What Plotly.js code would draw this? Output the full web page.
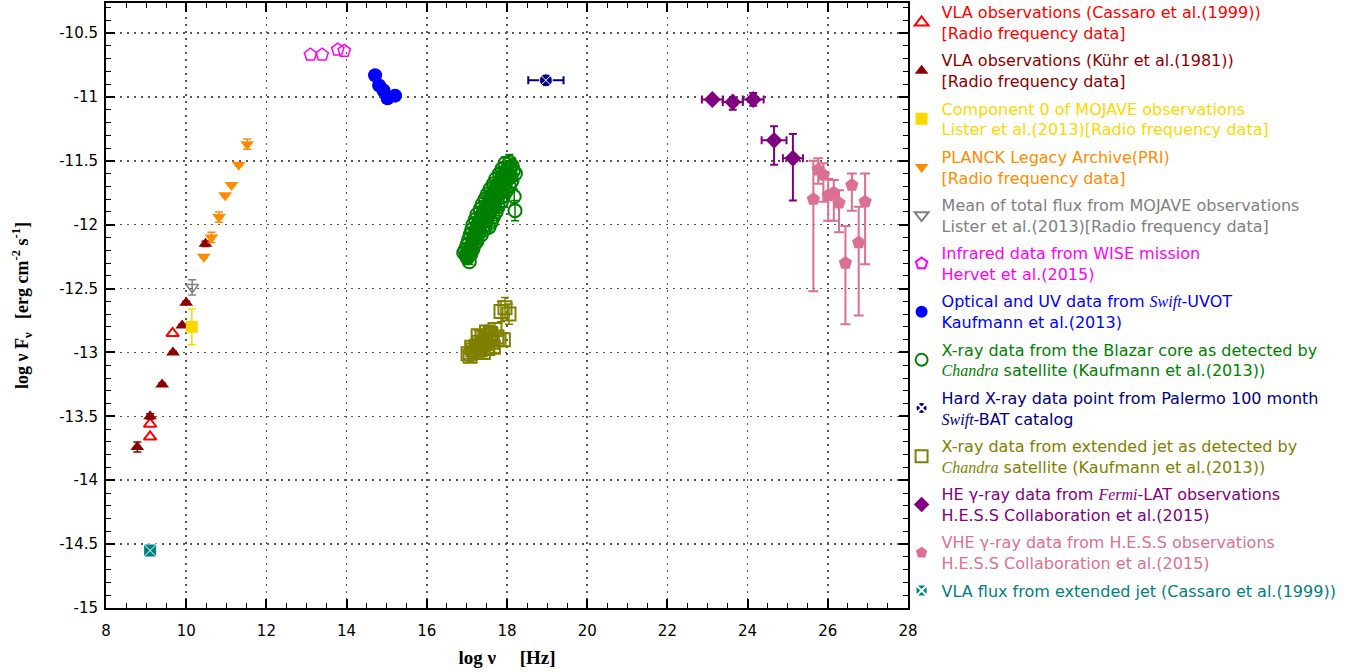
<!DOCTYPE html>
<html><head><meta charset="utf-8">
<script src="https://cdn.plot.ly/plotly-3.0.1.min.js"></script>
<style>html,body{margin:0;padding:0;background:#fff;}#chart{width:1359px;height:672px;}</style>
</head><body><div id="chart"></div>
<script>
// ---- data (log nu [Hz], log nuFnu [erg cm^-2 s^-1]) ----
const vlaCassaroX = [9.10, 9.10, 9.66];
const vlaCassaroY = [-13.56, -13.66, -12.85];

const vlaKuhrX = [8.78, 9.10, 9.40, 9.67, 9.90, 10.00, 10.48];
const vlaKuhrY = [-13.74, -13.50, -13.25, -13.00, -12.79, -12.61, -12.15];
const vlaKuhrErr = [0.04, 0.02, 0.01, 0.01, 0.01, 0.01, 0.02];

const mojaveCompX = [10.14];
const mojaveCompY = [-12.80];
const mojaveCompErr = [0.14];

const planckX = [10.44, 10.63, 10.82, 10.97, 11.13, 11.31, 11.52];
const planckY = [-12.25, -12.10, -11.94, -11.77, -11.69, -11.53, -11.37];
const planckErr = [0.01, 0.04, 0.04, 0.01, 0.01, 0.01, 0.04];

const mojaveMeanX = [10.15];
const mojaveMeanY = [-12.49];
const mojaveMeanErr = [0.06];

const wiseX = [13.10, 13.39, 13.78, 13.94];
const wiseY = [-10.67, -10.67, -10.63, -10.64];

const uvotX = [14.71, 14.81, 14.92, 15.02, 15.21];
const uvotY = [-10.83, -10.91, -10.95, -11.01, -10.99];

const coreX = [17.06, 16.98, 17.10, 16.95, 17.05, 17.15, 17.00, 17.11, 17.20, 17.04, 17.16, 17.25,
  17.08, 17.18, 17.29, 17.36, 17.12, 17.23, 17.32, 17.43, 17.15, 17.26, 17.35, 17.46, 17.55,
  17.21, 17.30, 17.41, 17.50, 17.61, 17.25, 17.36, 17.45, 17.56, 17.66, 17.33, 17.42, 17.53, 17.62, 17.73,
  17.38, 17.49, 17.58, 17.69, 17.78, 17.45, 17.56, 17.65, 17.76, 17.86, 17.51, 17.60, 17.71, 17.80, 17.91,
  17.58, 17.69, 17.78, 17.89, 17.98, 17.66, 17.75, 17.86, 17.95, 18.06, 17.72, 17.83, 17.92, 18.03, 18.12,
  17.81, 17.90, 18.01, 18.10, 17.88, 17.99, 18.08, 18.16, 17.95, 18.06, 18.13,
  18.20, 18.18, 18.21, 16.92, 17.01, 17.68, 17.40, 17.86, 18.00, 17.02, 17.09, 17.19, 17.28];
const coreY = [-12.29, -12.24, -12.23, -12.20, -12.21, -12.19, -12.16, -12.17, -12.15, -12.12, -12.11, -12.13,
  -12.08, -12.09, -12.07, -12.08, -12.04, -12.05, -12.03, -12.04, -12.00, -12.01, -11.99, -12.00, -12.02,
  -11.96, -11.97, -11.95, -11.96, -11.98, -11.92, -11.93, -11.91, -11.92, -11.94, -11.88, -11.89, -11.87, -11.88, -11.90,
  -11.84, -11.85, -11.83, -11.84, -11.86, -11.80, -11.81, -11.79, -11.80, -11.82, -11.76, -11.77, -11.75, -11.76, -11.78,
  -11.72, -11.73, -11.71, -11.72, -11.74, -11.68, -11.69, -11.67, -11.68, -11.70, -11.64, -11.65, -11.63, -11.64, -11.66,
  -11.60, -11.61, -11.59, -11.62, -11.56, -11.57, -11.55, -11.58, -11.52, -11.51, -11.54,
  -11.89, -11.78, -11.60, -12.22, -12.26, -11.86, -11.93, -11.74, -11.61, -12.25, -12.21, -12.12, -12.03];
const coreErr = [0.02, 0.02, 0.02, 0.02, 0.02, 0.02, 0.02, 0.02, 0.02, 0.02, 0.02, 0.02,
  0.02, 0.02, 0.02, 0.02, 0.02, 0.02, 0.02, 0.02, 0.02, 0.02, 0.02, 0.02, 0.03,
  0.02, 0.02, 0.02, 0.03, 0.03, 0.02, 0.02, 0.03, 0.03, 0.03, 0.02, 0.03, 0.03, 0.03, 0.03,
  0.03, 0.03, 0.03, 0.03, 0.03, 0.03, 0.03, 0.03, 0.03, 0.04, 0.03, 0.03, 0.03, 0.04, 0.04,
  0.03, 0.03, 0.04, 0.04, 0.04, 0.03, 0.04, 0.04, 0.04, 0.05, 0.04, 0.04, 0.04, 0.05, 0.05,
  0.04, 0.04, 0.05, 0.05, 0.04, 0.05, 0.05, 0.06, 0.05, 0.06, 0.06,
  0.08, 0.06, 0.06, 0.02, 0.02, 0.03, 0.02, 0.04, 0.05, 0.02, 0.02, 0.02, 0.02];

const batX = [18.97];
const batY = [-10.87];
const batXErr = [0.44];

const jetX = [17.03, 17.08, 17.15, 17.20, 17.25, 17.30, 17.33, 17.38, 17.41, 17.45, 17.49, 17.52, 17.55, 17.60, 17.66, 17.70,
  17.75, 17.80, 17.91, 17.85, 18.05, 17.95, 17.28, 17.62, 17.12, 17.36, 17.47, 17.58];
const jetY = [-13.01, -13.03, -12.98, -13.00, -12.95, -12.92, -12.98, -12.88, -13.00, -12.93, -12.84, -12.97, -12.90, -12.86, -12.96, -12.82,
  -12.88, -12.90, -12.90, -12.68, -12.70, -12.65, -12.87, -12.92, -12.96, -12.94, -12.91, -12.85];
const jetErr = [0.04, 0.04, 0.04, 0.04, 0.04, 0.04, 0.04, 0.04, 0.05, 0.04, 0.05, 0.04, 0.04, 0.05, 0.04, 0.05,
  0.05, 0.05, 0.05, 0.08, 0.08, 0.08, 0.04, 0.05, 0.04, 0.04, 0.04, 0.05];

const fermiX = [23.12, 23.63, 24.14, 24.66, 25.13];
const fermiY = [-11.02, -11.04, -11.02, -11.34, -11.48];
const fermiXErr = [0.26, 0.25, 0.26, 0.31, 0.25];
const fermiYUp = [0.01, 0.02, 0.05, 0.11, 0.19];
const fermiYDown = [0.01, 0.06, 0.05, 0.19, 0.33];

const hessX = [25.64, 25.76, 25.89, 26.01, 26.15, 26.28, 26.44, 26.60, 26.77, 26.93];
const hessY = [-11.80, -11.57, -11.61, -11.77, -11.75, -11.83, -12.30, -11.69, -12.14, -11.82];
const hessUp = [0.30, 0.09, 0.09, 0.13, 0.10, 0.10, 0.29, 0.09, 0.28, 0.22];
const hessDown = [0.72, 0.11, 0.21, 0.20, 0.22, 0.23, 0.48, 0.20, 0.57, 0.49];

const vlaJetX = [9.10];
const vlaJetY = [-14.55];

const xTicks = [8, 10, 12, 14, 16, 18, 20, 22, 24, 26, 28];
const yTicks = [-15, -14.5, -14, -13.5, -13, -12.5, -12, -11.5, -11, -10.5];
const yTickText = ['-15', '-14.5', '-14', '-13.5', '-13', '-12.5', '-12', '-11.5', '-11', '-10.5'];

// ---- styles ----
const C = {
  red: '#ff0000', darkred: '#8b0000', gold: '#ffd700', orange: '#ff8c00', gray: '#808080',
  magenta: '#ff00ff', blue: '#0000ff', green: '#008000', navy: '#000080', olive: '#808000',
  purple: '#800080', pink: '#db7093', teal: '#008080'
};
const it = (w) => '<i><span style="font-family:\'Liberation Serif\',serif">' + w + '</span></i>';
const nm = (col, l1, l2) => '<span style="color:' + col + '">' + l1 + '<br>' + l2 + '</span>';

function errY(arr, col) {
  return {type: 'data', array: arr, visible: true, color: col, thickness: 1.5, width: 4};
}

let g = 0;
function tr(o) { o.type = 'scatter'; o.mode = 'markers'; o.legendgroup = 'g' + (g++); return o; }

const traces = [
  tr({x: vlaCassaroX, y: vlaCassaroY, name: nm(C.red, 'VLA observations (Cassaro et al.(1999))', '[Radio frequency data]'),
    marker: {symbol: 'triangle-up-open', size: 11, color: C.red, line: {width: 2}}}),
  tr({x: vlaKuhrX, y: vlaKuhrY, name: nm(C.darkred, 'VLA observations (Kühr et al.(1981))', '[Radio frequency data]'),
    marker: {symbol: 'triangle-up', size: 12, color: C.darkred}, error_y: errY(vlaKuhrErr, C.darkred)}),
  tr({x: mojaveCompX, y: mojaveCompY, name: nm(C.gold, 'Component 0 of MOJAVE observations', 'Lister et al.(2013)[Radio frequency data]'),
    marker: {symbol: 'square', size: 12, color: C.gold}, error_y: errY(mojaveCompErr, C.gold)}),
  tr({x: planckX, y: planckY, name: nm(C.orange, 'PLANCK Legacy Archive(PRI)', '[Radio frequency data]'),
    marker: {symbol: 'triangle-down', size: 12, color: C.orange}, error_y: errY(planckErr, C.orange)}),
  tr({x: mojaveMeanX, y: mojaveMeanY, name: nm(C.gray, 'Mean of total flux from MOJAVE observations', 'Lister et al.(2013)[Radio frequency data]'),
    marker: {symbol: 'triangle-down-open', size: 11, color: C.gray, line: {width: 1.5}}, error_y: errY(mojaveMeanErr, C.gray)}),
  tr({x: wiseX, y: wiseY, name: nm(C.magenta, 'Infrared data from WISE mission', 'Hervet et al.(2015)'),
    marker: {symbol: 'pentagon-open', size: 13, color: C.magenta, line: {width: 1.5}}}),
  tr({x: uvotX, y: uvotY, name: nm(C.blue, 'Optical and UV data from ' + it('Swift') + '-UVOT', 'Kaufmann et al.(2013)'),
    marker: {symbol: 'circle', size: 14, color: C.blue}}),
  tr({x: coreX, y: coreY, name: nm(C.green, 'X-ray data from the Blazar core as detected by', it('Chandra') + ' satellite (Kaufmann et al.(2013))'),
    marker: {symbol: 'circle-open', size: 13, color: C.green, line: {width: 2}}, error_y: errY(coreErr, C.green)}),
  tr({x: batX, y: batY, name: nm(C.navy, 'Hard X-ray data point from Palermo 100 month', it('Swift') + '-BAT catalog'),
    marker: {symbol: 'circle-x', size: 13, color: C.navy, line: {width: 1, color: '#ffffff'}},
    error_x: {type: 'data', array: batXErr, visible: true, color: C.navy, thickness: 2, width: 4}}),
  tr({x: jetX, y: jetY, name: nm(C.olive, 'X-ray data from extended jet as detected by', it('Chandra') + ' satellite (Kaufmann et al.(2013))'),
    marker: {symbol: 'square-open', size: 13, color: C.olive, line: {width: 2}}, error_y: errY(jetErr, C.olive)}),
  tr({x: fermiX, y: fermiY, name: nm(C.purple, 'HE γ-ray data from ' + it('Fermi') + '-LAT observations', 'H.E.S.S Collaboration et al.(2015)'),
    marker: {symbol: 'diamond', size: 13, color: C.purple},
    error_x: {type: 'data', array: fermiXErr, visible: true, color: C.purple, thickness: 2, width: 4},
    error_y: {type: 'data', symmetric: false, array: fermiYUp, arrayminus: fermiYDown, visible: true, color: C.purple, thickness: 2, width: 4}}),
  tr({x: hessX, y: hessY, name: nm(C.pink, 'VHE γ-ray data from H.E.S.S observations', 'H.E.S.S Collaboration et al.(2015)'),
    marker: {symbol: 'pentagon', size: 14, color: C.pink},
    error_y: {type: 'data', symmetric: false, array: hessUp, arrayminus: hessDown, visible: true, color: C.pink, thickness: 2, width: 5}}),
  tr({x: vlaJetX, y: vlaJetY, name: '<span style="color:' + C.teal + '">VLA flux from extended jet (Cassaro et al.(1999))</span>',
    marker: {symbol: 'square-x', size: 13, color: C.teal, line: {width: 1, color: '#ffffff'}}})
];

const axisCommon = {
  showline: true, linecolor: '#000', linewidth: 2, mirror: 'ticks',
  ticks: 'inside', ticklen: 9, tickwidth: 2, tickcolor: '#000',
  showgrid: true, gridcolor: '#555', griddash: '2px,5px', gridwidth: 1.5,
  zeroline: false, tickfont: {family: 'DejaVu Sans', size: 15, color: '#000'}
};

const NB = '\u00a0';
const layout = {
  width: 1359, height: 672,
  paper_bgcolor: '#fff', plot_bgcolor: '#fff',
  margin: {l: 106, r: 451, t: 3, b: 64, autoexpand: false},
  showlegend: true,
  xaxis: Object.assign({}, axisCommon, {
    range: [8, 28], tickmode: 'array', tickvals: xTicks, ticktext: xTicks.map(String),
    ticklabelstandoff: 8,
    minor: {dtick: 0.5, ticks: 'inside', ticklen: 5, tickwidth: 1, tickcolor: '#000', showgrid: false},
    title: {text: 'log ν' + NB.repeat(5) + '[Hz]', font: {family: 'Liberation Serif', size: 19, color: '#000', weight: 'bold'}, standoff: 12}
  }),
  yaxis: Object.assign({}, axisCommon, {
    range: [-15, -10.265], tickmode: 'array', tickvals: yTicks, ticktext: yTickText,
    ticklabelstandoff: 3,
    minor: {dtick: 0.1, ticks: 'inside', ticklen: 5, tickwidth: 1, tickcolor: '#000', showgrid: false},
    title: {text: 'log ν F<sub>ν</sub>' + NB.repeat(3) + '[erg cm<sup>-2</sup> s<sup>-1</sup>]', font: {family: 'Liberation Serif', size: 18, color: '#000', weight: 'bold'}, standoff: 26}
  }),
  legend: {
    x: 0.992, y: 1.013, xanchor: 'left', yanchor: 'top',
    font: {family: 'DejaVu Sans', size: 16, color: '#000'},
    traceorder: 'grouped', tracegroupgap: 3.6, itemsizing: 'constant',
    bgcolor: 'rgba(0,0,0,0)', borderwidth: 0, maxheight: 672
  }
};

Plotly.newPlot('chart', traces, layout, {displayModeBar: false, staticPlot: true});
</script>
</body></html>
